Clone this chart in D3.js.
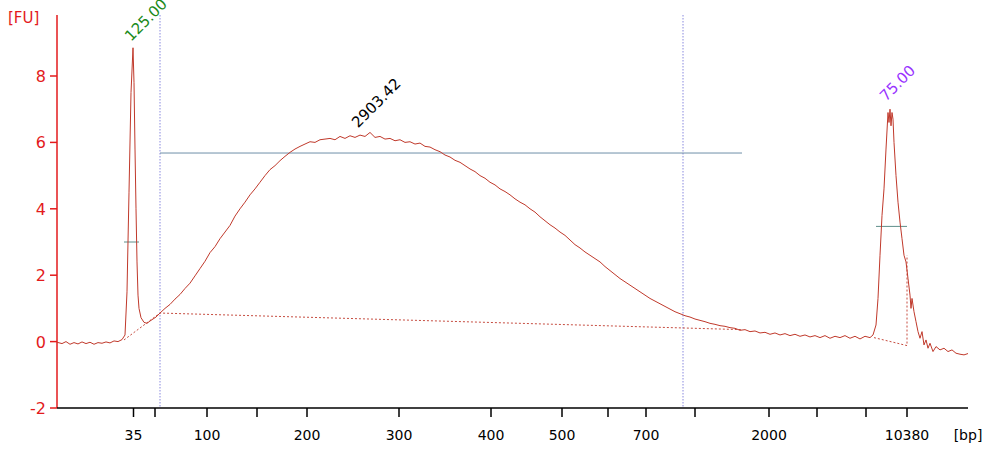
<!DOCTYPE html>
<html><head><meta charset="utf-8">
<script src="https://cdn.jsdelivr.net/npm/d3@7"></script>
<style>body{margin:0;background:#fff}text{font-family:"DejaVu Sans",sans-serif}</style>
</head><body>
<svg id="chart" width="988" height="449"></svg>
<script>
// migration index (arbitrary time units) vs fluorescence
var trace = [[57,-0.02],[62,-0.06],[66,0.0],[70,-0.08],[74,-0.03],[78,-0.07],[82,-0.01],[86,-0.06],[90,-0.02],[94,-0.08],[98,-0.03],[102,-0.05],[106,-0.01],[110,-0.04],[114,0.02],[118,0.0],[122,0.06],
  [125,0.2],[127,1.5],[129,4.5],[131,7.5],[133,8.85],[134,7.8],[135,5.8],[136,4.0],[137,2.4],[138,1.4],[139,1.0],[141,0.72],[144,0.58],[147,0.55],[150,0.62],[153,0.68],[156,0.74],[160,0.86],
  [165,1.0],[170,1.12],[175,1.28],[180,1.42],[185,1.6],[190,1.76],[195,1.98],[200,2.2],[205,2.42],[210,2.68],[215,2.86],[220,3.1],[225,3.3],[230,3.5],[235,3.78],[240,4.0],[245,4.2],[250,4.42],[255,4.6],[260,4.8],[265,5.0],[270,5.18],[275,5.3],[280,5.45],[285,5.58],[290,5.7],[295,5.8],[300,5.88],[305,5.95],[310,6.02],[315,6.0],[320,6.08],[325,6.1],[330,6.12],[335,6.08],[340,6.18],[345,6.12],[350,6.2],[355,6.15],[360,6.22],[365,6.18],[370,6.3],[375,6.15],[380,6.18],[385,6.1],[390,6.12],[395,6.05],[400,6.08],[405,6.0],[410,6.02],[415,5.95],[420,5.98],[425,5.88],[430,5.86],[435,5.78],[440,5.72],[445,5.62],[450,5.56],[455,5.46],[460,5.4],[465,5.3],[470,5.2],[475,5.12],[480,5.0],[485,4.92],[490,4.8],[495,4.72],[500,4.6],[505,4.52],[510,4.42],[515,4.3],[520,4.2],[525,4.12],[530,4.0],[535,3.9],[540,3.76],[545,3.64],[550,3.52],[555,3.42],[560,3.3],[565,3.2],[570,3.06],[575,2.92],[580,2.82],[585,2.7],[590,2.6],[595,2.5],[600,2.4],[605,2.26],[610,2.14],[615,2.02],[620,1.9],[625,1.8],[630,1.7],[635,1.6],[640,1.5],[645,1.4],[650,1.3],[655,1.22],[660,1.14],[665,1.06],[670,0.98],[675,0.9],[680,0.84],[685,0.78],[690,0.74],[695,0.68],[700,0.64],[705,0.6],[710,0.55],[715,0.52],[720,0.48],[725,0.46],[730,0.42],[735,0.4],[740,0.34],[745,0.36],[750,0.3],[755,0.32],[760,0.26],[765,0.28],[770,0.22],[775,0.26],[780,0.2],[785,0.24],[790,0.18],[795,0.22],[800,0.16],[805,0.2],[810,0.14],[815,0.18],[820,0.12],[825,0.18],[830,0.1],[835,0.16],[840,0.12],[845,0.18],[850,0.1],[855,0.16],[860,0.08],[865,0.16],[870,0.12],[873,0.2],
  [876,0.5],[878,1.3],[880,2.6],[882,3.8],[884,4.6],[886,5.8],[888,6.9],[889,6.6],[890,7.0],[891,6.5],[892,6.9],[893,6.7],[894,6.0],[896,5.0],[898,4.2],[900,3.6],[902,3.1],[904,2.6],[906,2.4],[908,1.9],[910,1.4],[911,1.0],[912,1.3],[914,0.9],[916,0.6],[918,0.3],[920,0.1],[922,0.3],[924,-0.1],[926,0.05],[928,-0.2],[930,-0.05],[933,-0.3],[936,-0.15],[940,-0.25],[944,-0.2],[948,-0.3],[952,-0.25],[956,-0.35],[960,-0.38],[964,-0.4],[968,-0.36]];

var tickPos = [133.5,155,207,257,307,399,491,562,608,646,695,769,817,866,907];
var tickLbl = ["35","","100","","200","300","400","500","","700","","2000","","","10380"];
var yTicks = [-2,0,2,4,6,8];
var peakLabels = [{t:133,v:8.9,txt:"125.00",c:"#1a8a1a"},{t:360,v:6.3,txt:"2903.42",c:"#000"},{t:888,v:7.1,txt:"75.00",c:"#9933ff"}];
var smearFrom = 160, smearTo = 742, smearMarker = 683, smearLevel = 5.68;
var baseline = [[124,0.05],[160,0.86],[742,0.36]];
var baseline2 = [[874,0.12],[907,-0.12],[907,2.6]];
var halfH = [[124,139,3.0],[876,907,3.47]];

var svg = d3.select("#chart");
var x = d3.scaleLinear().domain([57,968]).range([57,968]);
var y = d3.scaleLinear().domain([-2,8]).range([408,76]);
var red = "#e31a1c";

// axes
svg.append("line").attr("x1",57).attr("x2",57).attr("y1",15).attr("y2",408).attr("stroke",red).attr("stroke-width",1.5);
svg.append("line").attr("x1",57).attr("x2",968).attr("y1",408).attr("y2",408).attr("stroke","#000").attr("stroke-width",1.5);
yTicks.forEach(function(v){
  svg.append("line").attr("x1",50).attr("x2",57).attr("y1",y(v)).attr("y2",y(v)).attr("stroke",red).attr("stroke-width",1.5);
  svg.append("text").attr("x",46).attr("y",y(v)+6).attr("text-anchor","end").attr("fill",red).attr("font-size",16).text(v);
});
svg.append("text").attr("x",8).attr("y",23).attr("fill",red).attr("font-size",15).text("[FU]");
tickPos.forEach(function(p,i){
  svg.append("line").attr("x1",x(p)).attr("x2",x(p)).attr("y1",408).attr("y2",417).attr("stroke","#000").attr("stroke-width",1.5);
  if(tickLbl[i]) svg.append("text").attr("x",x(p)).attr("y",440).attr("text-anchor","middle").attr("font-size",14).text(tickLbl[i]);
});
svg.append("text").attr("x",968).attr("y",440).attr("text-anchor","middle").attr("font-size",14).text("[bp]");

// smear region markers
[smearFrom, smearMarker].forEach(function(p){
  svg.append("line").attr("x1",x(p)).attr("x2",x(p)).attr("y1",15).attr("y2",408).attr("stroke","#6b6bd6").attr("stroke-width",0.8).attr("stroke-dasharray","1.5,1.5");
});
svg.append("line").attr("x1",x(smearFrom)).attr("x2",x(smearTo)).attr("y1",y(smearLevel)).attr("y2",y(smearLevel)).attr("stroke","#6f8fa8").attr("stroke-width",1);
halfH.forEach(function(h){
  svg.append("line").attr("x1",x(h[0])).attr("x2",x(h[1])).attr("y1",y(h[2])).attr("y2",y(h[2])).attr("stroke","#5e8f8a").attr("stroke-width",1);
});

var line = d3.line().x(function(d){return x(d[0]);}).y(function(d){return y(d[1]);});
[baseline, baseline2].forEach(function(b){
  svg.append("path").attr("d",line(b)).attr("fill","none").attr("stroke","#c0392b").attr("stroke-width",0.9).attr("stroke-dasharray","2,2");
});
svg.append("path").attr("d",line(trace)).attr("fill","none").attr("stroke","#c0392b").attr("stroke-width",1);

peakLabels.forEach(function(p){
  svg.append("text").attr("transform","translate("+(x(p.t)-2)+","+(y(p.v)-4)+") rotate(-45)")
    .attr("fill",p.c).attr("font-size",15).text(p.txt);
});
</script>
</body></html>
